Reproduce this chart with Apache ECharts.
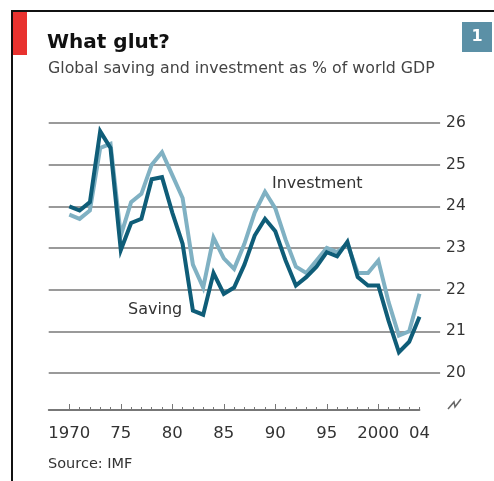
<!DOCTYPE html>
<html><head><meta charset="utf-8">
<script src="https://cdn.jsdelivr.net/npm/echarts@6/dist/echarts.min.js"></script>
<style>html,body{margin:0;padding:0;background:#fff}#c{width:494px;height:481px}</style>
</head><body><div id="c"></div>
<script>
const years = [1970,1971,1972,1973,1974,1975,1976,1977,1978,1979,1980,1981,1982,1983,1984,1985,1986,1987,1988,1989,1990,1991,1992,1993,1994,1995,1996,1997,1998,1999,2000,2001,2002,2003,2004];
const saving = [24.0,23.9,24.1,25.8,25.4,22.95,23.6,23.7,24.65,24.7,23.85,23.1,21.5,21.4,22.4,21.9,22.05,22.6,23.3,23.7,23.4,22.7,22.1,22.3,22.55,22.9,22.8,23.15,22.3,22.1,22.1,21.25,20.5,20.75,21.35];
const investment = [23.8,23.7,23.9,25.4,25.5,23.3,24.1,24.3,25.0,25.3,24.75,24.2,22.6,22.05,23.25,22.75,22.5,23.1,23.85,24.35,23.95,23.2,22.55,22.4,22.7,23.0,22.9,23.1,22.4,22.4,22.7,21.7,20.9,21.0,21.9];
const yTicks = [20,21,22,23,24,25,26];
const xLabelYears = [1970,1975,1980,1985,1990,1995,2000,2004];
const xLabels = ['1970','75','80','85','90','95','2000','04'];
const majorTickYears = [1970,1975,1980,1985,1990,1995,2000];

const FONT = '"DejaVu Sans", sans-serif';
const chart = echarts.init(document.getElementById('c'), null, {renderer:'canvas'});
const pair = arr => years.map((y,i)=>[y, arr[i]]);

chart.setOption({
  animation:false,
  backgroundColor:'#fff',
  grid:[
    {left:48.7, width:391.4, top:123, height:250},
    {left:48.7, width:370.8, top:360, height:50},
    {left:48.7, width:370.8, top:360, height:50}
  ],
  xAxis:[
    {gridIndex:0, type:'value', min:1968, max:2006, show:false},
    {gridIndex:1, type:'value', min:1968, max:2004, position:'bottom',
      axisLine:{show:true, lineStyle:{color:'#777', width:1.8}},
      axisTick:{show:true, inside:true, length:3, customValues:years, lineStyle:{color:'#777', width:1}},
      axisLabel:{show:true, customValues:xLabelYears, margin:15, color:'#333', fontSize:16.5, fontFamily:FONT,
        formatter:v=>{const i=xLabelYears.indexOf(Math.round(v)); return i>=0?xLabels[i]:'';}},
      splitLine:{show:false}},
    {gridIndex:2, type:'value', min:1968, max:2004, position:'bottom',
      axisLine:{show:false},
      axisTick:{show:true, inside:true, length:6, customValues:majorTickYears, lineStyle:{color:'#777', width:1}},
      axisLabel:{show:false}, splitLine:{show:false}}
  ],
  yAxis:[
    {gridIndex:0, type:'value', min:20, max:26, interval:1, position:'right',
      axisLine:{show:false}, axisTick:{show:false},
      axisLabel:{margin:6, color:'#333', fontSize:15.5, fontFamily:FONT},
      splitLine:{show:true, lineStyle:{color:'#9a9a9a', width:2}}},
    {gridIndex:1, type:'value', min:0, max:1, show:false},
    {gridIndex:2, type:'value', min:0, max:1, show:false}
  ],
  series:[
    {name:'Investment', type:'line', xAxisIndex:0, yAxisIndex:0, data:pair(investment), showSymbol:false,
      lineStyle:{color:'#80b1c3', width:4, join:'miter'}, z:2},
    {name:'Saving', type:'line', xAxisIndex:0, yAxisIndex:0, data:pair(saving), showSymbol:false,
      lineStyle:{color:'#0f5d78', width:4, join:'miter'}, z:3}
  ],
  graphic:[
    {type:'line', shape:{x1:12, y1:11, x2:494, y2:11}, style:{stroke:'#111', lineWidth:2}},
    {type:'line', shape:{x1:12, y1:10, x2:12, y2:481}, style:{stroke:'#111', lineWidth:2}},
    {type:'rect', shape:{x:13, y:12, width:14, height:43}, style:{fill:'#e8322f'}},
    {type:'rect', shape:{x:462, y:22, width:30, height:30}, style:{fill:'#5b90a6'}},
    {type:'text', x:477, y:37, style:{text:'1', fill:'#fff', font:'bold 16px '+FONT, align:'center', verticalAlign:'middle'}},
    {type:'text', x:47, y:33, style:{text:'What glut?', fill:'#111', font:'bold 20px '+FONT}},
    {type:'text', x:48, y:61, style:{text:'Global saving and investment as % of world GDP', fill:'#444', font:'15.8px '+FONT}},
    {type:'text', x:272, y:176, style:{text:'Investment', fill:'#333', font:'16px '+FONT}},
    {type:'text', x:128, y:302, style:{text:'Saving', fill:'#333', font:'16px '+FONT}},
    {type:'text', x:48, y:457, style:{text:'Source: IMF', fill:'#333', font:'14.5px '+FONT}},
    {type:'polyline', shape:{points:[[448,409],[454,402],[455,407],[461,399]]}, style:{stroke:'#666', lineWidth:1.5, fill:null}}
  ]
});
</script></body></html>
